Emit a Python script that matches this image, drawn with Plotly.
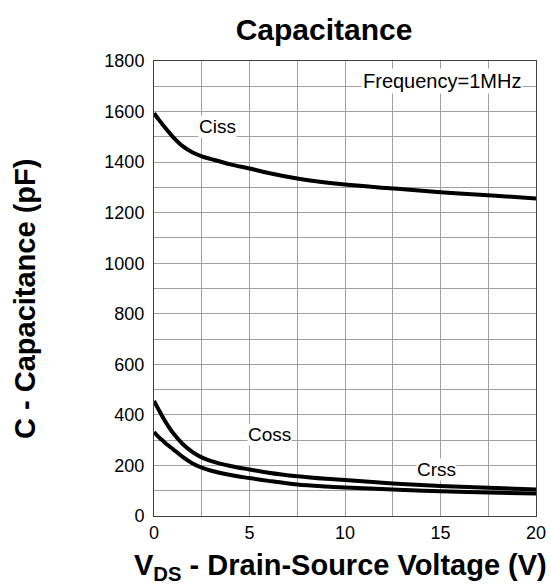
import plotly.graph_objects as go

vds = [0, 0.25, 0.5, 0.75, 1, 1.5, 2, 2.5, 3, 4, 5, 6, 7.5, 9, 10, 12.5, 15, 17.5, 20]
ciss = [1593, 1568, 1544, 1521, 1499, 1463, 1439, 1423, 1412, 1391, 1375, 1357, 1335, 1319, 1311, 1296, 1281, 1269, 1256]
coss = [455, 420, 386, 355, 328, 285, 254, 232, 217, 198, 184, 171, 157, 147, 142, 129, 119, 112, 105]
crss = [332, 312, 295, 279, 264, 234, 209, 191, 179, 162, 150, 139, 125, 117, 113, 105, 98, 93, 89]

x_ticks = [0, 5, 10, 15, 20]
y_ticks = [0, 200, 400, 600, 800, 1000, 1200, 1400, 1600, 1800]

FONT = "Liberation Sans, Arial, sans-serif"

fig = go.Figure()
for name, vals in [("Ciss", ciss), ("Coss", coss), ("Crss", crss)]:
    fig.add_trace(go.Scatter(x=vds, y=vals, mode="lines", name=name,
                             line=dict(color="black", width=4, shape="spline", smoothing=1.0)))

labels = [("Ciss", 3.3, 1540), ("Coss", 6.05, 321), ("Crss", 14.8, 183)]
for txt, xv, yv in labels:
    fig.add_annotation(x=xv, y=yv, text=txt, showarrow=False, bgcolor="white",
                       font=dict(family=FONT, size=19, color="black"), borderpad=0)
fig.add_annotation(x=15.1, y=1722, text="Frequency=1MHz", showarrow=False, bgcolor="white",
                   font=dict(family=FONT, size=20, color="black"), borderpad=1)

# axis titles as annotations for exact placement
fig.add_annotation(xref="paper", yref="paper", x=(340 - 154) / 382, y=(516 - 567) / 455,
                   xanchor="center", yanchor="middle", showarrow=False,
                   text="<b>V<sub>DS</sub> - Drain-Source Voltage (V)</b>",
                   font=dict(family=FONT, size=29, color="black"))
fig.add_annotation(xref="paper", yref="paper", x=(25 - 154) / 382, y=(516 - 299) / 455,
                   xanchor="center", yanchor="middle", showarrow=False, textangle=-90,
                   text="<b>C - Capacitance (pF)</b>",
                   font=dict(family=FONT, size=29, color="black"))

fig.update_layout(
    width=551, height=587,
    margin=dict(l=154, r=15, t=61, b=71, autoexpand=False),
    paper_bgcolor="white", plot_bgcolor="white",
    showlegend=False,
    font=dict(family=FONT, color="black"),
    title=dict(text="<b>Capacitance</b>", x=324 / 551, xanchor="center",
               y=1 - 29 / 587, yanchor="middle", yref="container",
               font=dict(family=FONT, size=30, color="black")),
)
fig.update_xaxes(range=[0, 20], tickvals=x_ticks, ticktext=[str(v) for v in x_ticks],
                 showgrid=True, gridcolor="#a0a0a0", gridwidth=1,
                 minor=dict(dtick=2.5, showgrid=True, gridcolor="#a0a0a0", gridwidth=1),
                 showline=True, linecolor="#404040", linewidth=1, mirror=True,
                 zeroline=False, ticks="", automargin=False, ticklabeloverflow="allow",
                 tickfont=dict(family=FONT, size=18, color="black"))
fig.update_yaxes(range=[0, 1800], tickvals=y_ticks, ticktext=[str(v) for v in y_ticks],
                 showgrid=True, gridcolor="#a0a0a0", gridwidth=1,
                 minor=dict(dtick=100, showgrid=True, gridcolor="#a0a0a0", gridwidth=1),
                 showline=True, linecolor="#404040", linewidth=1, mirror=True,
                 zeroline=False, ticks="", ticklabelstandoff=5, automargin=False,
                 tickfont=dict(family=FONT, size=18, color="black"))

fig.write_html("out.html", config={"displayModeBar": False},
               post_script="document.body.style.margin='0px';document.body.style.overflow='hidden';")
